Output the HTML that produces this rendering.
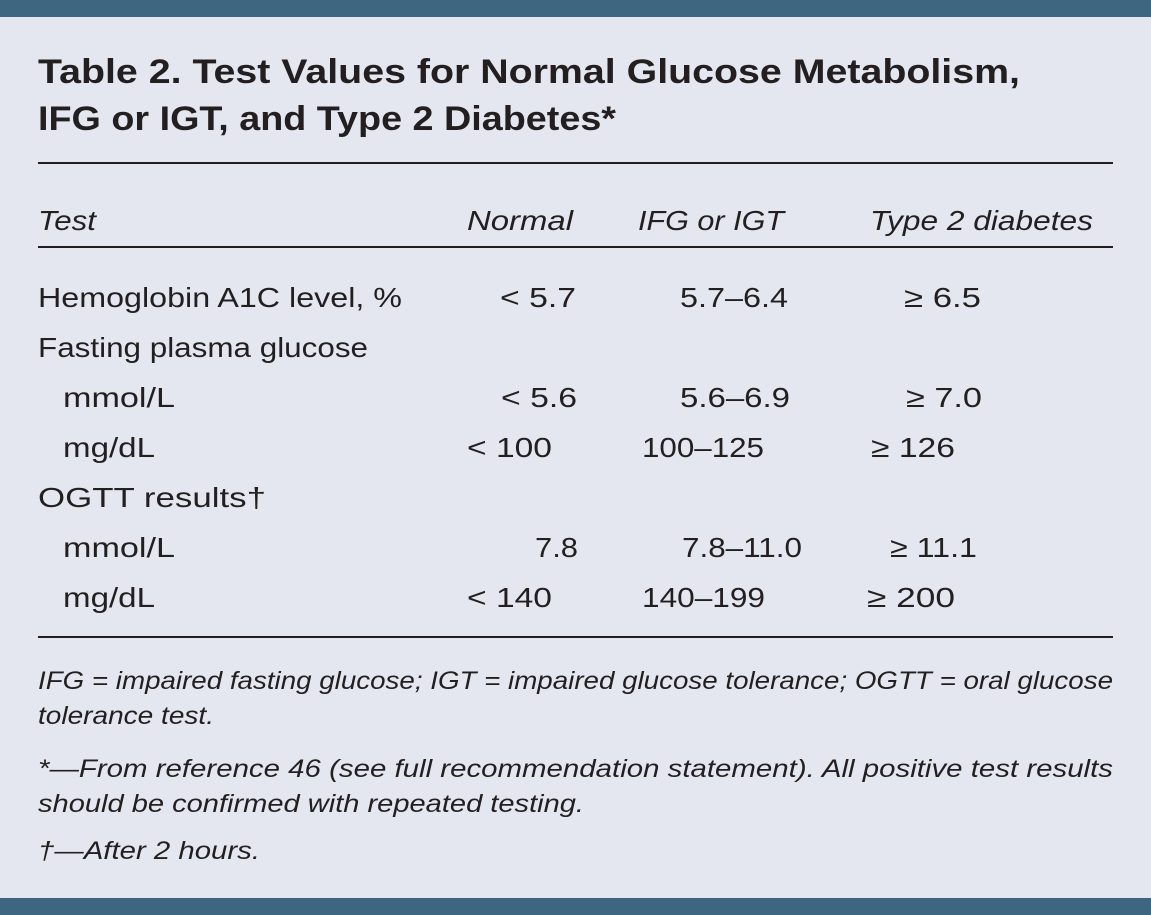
<!DOCTYPE html>
<html><head><meta charset="utf-8"><style>
html,body{margin:0;padding:0;background:#e4e7ef;}
svg{display:block}
text{font-family:"Liberation Sans",sans-serif;fill:#231f20}
</style></head><body>
<svg width="1151" height="915" xmlns="http://www.w3.org/2000/svg">
<rect width="1151" height="915" fill="#e4e7ef"/>
<rect x="0" y="0" width="1151" height="17" fill="#3f6680"/>
<rect x="0" y="898" width="1151" height="17" fill="#3f6680"/>
<g font-weight="bold" font-size="34">
<text x="38" y="83" textLength="982" lengthAdjust="spacingAndGlyphs">Table 2. Test Values for Normal Glucose Metabolism,</text>
<text x="38" y="130" textLength="578" lengthAdjust="spacingAndGlyphs">IFG or IGT, and Type 2 Diabetes*</text>
</g>
<rect x="38" y="162" width="1075" height="2" fill="#231f20"/>
<g font-style="italic" font-size="28">
<text x="38" y="230" textLength="58" lengthAdjust="spacingAndGlyphs">Test</text>
<text x="467" y="230" textLength="106" lengthAdjust="spacingAndGlyphs">Normal</text>
<text x="638" y="230" textLength="146" lengthAdjust="spacingAndGlyphs">IFG or IGT</text>
<text x="870" y="230" textLength="223" lengthAdjust="spacingAndGlyphs">Type 2 diabetes</text>
</g>
<rect x="38" y="246" width="1075" height="2" fill="#231f20"/>
<g font-size="28">
<text x="38" y="307" textLength="364" lengthAdjust="spacingAndGlyphs">Hemoglobin A1C level, %</text>
<text x="500" y="307" textLength="76" lengthAdjust="spacingAndGlyphs">&lt; 5.7</text><text x="680" y="307" textLength="108" lengthAdjust="spacingAndGlyphs">5.7–6.4</text><text x="904" y="307" textLength="77" lengthAdjust="spacingAndGlyphs">≥ 6.5</text>
<text x="38" y="357" textLength="330" lengthAdjust="spacingAndGlyphs">Fasting plasma glucose</text>
<text x="63" y="407" textLength="112" lengthAdjust="spacingAndGlyphs">mmol/L</text>
<text x="501" y="407" textLength="76" lengthAdjust="spacingAndGlyphs">&lt; 5.6</text><text x="680" y="407" textLength="110" lengthAdjust="spacingAndGlyphs">5.6–6.9</text><text x="906" y="407" textLength="76" lengthAdjust="spacingAndGlyphs">≥ 7.0</text>
<text x="63" y="457" textLength="92" lengthAdjust="spacingAndGlyphs">mg/dL</text>
<text x="467" y="457" textLength="85" lengthAdjust="spacingAndGlyphs">&lt; 100</text><text x="642" y="457" textLength="122" lengthAdjust="spacingAndGlyphs">100–125</text><text x="871" y="457" textLength="84" lengthAdjust="spacingAndGlyphs">≥ 126</text>
<text x="38" y="507" textLength="228" lengthAdjust="spacingAndGlyphs">OGTT results†</text>
<text x="63" y="557" textLength="112" lengthAdjust="spacingAndGlyphs">mmol/L</text>
<text x="535" y="557" textLength="43" lengthAdjust="spacingAndGlyphs">7.8</text><text x="682" y="557" textLength="120" lengthAdjust="spacingAndGlyphs">7.8–11.0</text><text x="890" y="557" textLength="87" lengthAdjust="spacingAndGlyphs">≥ 11.1</text>
<text x="63" y="607" textLength="92" lengthAdjust="spacingAndGlyphs">mg/dL</text>
<text x="467" y="607" textLength="85" lengthAdjust="spacingAndGlyphs">&lt; 140</text><text x="642" y="607" textLength="123" lengthAdjust="spacingAndGlyphs">140–199</text><text x="867" y="607" textLength="88" lengthAdjust="spacingAndGlyphs">≥ 200</text>
</g>
<rect x="38" y="636" width="1075" height="2" fill="#231f20"/>
<g font-style="italic" font-size="25">
<text x="38" y="689" textLength="1075" lengthAdjust="spacingAndGlyphs">IFG = impaired fasting glucose; IGT = impaired glucose tolerance; OGTT = oral glucose</text>
<text x="38" y="724" textLength="176" lengthAdjust="spacingAndGlyphs">tolerance test.</text>
<text x="38" y="777" textLength="1075" lengthAdjust="spacingAndGlyphs">*—From reference 46 (see full recommendation statement). All positive test results</text>
<text x="38" y="812" textLength="546" lengthAdjust="spacingAndGlyphs">should be confirmed with repeated testing.</text>
<text x="38" y="859" textLength="222" lengthAdjust="spacingAndGlyphs">†—After 2 hours.</text>
</g>
</svg>
</body></html>
